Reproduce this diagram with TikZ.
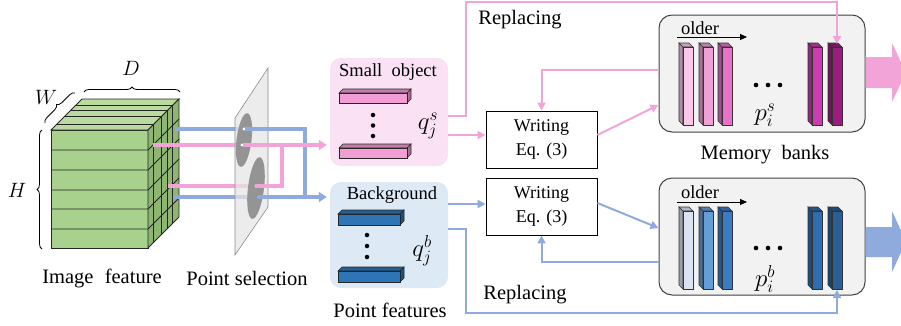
\documentclass[tikz,border=0pt]{standalone}
\usepackage{fontspec}
\setmainfont{Liberation Serif}
\usetikzlibrary{arrows.meta,decorations.pathreplacing,calc}
\definecolor{pline}{HTML}{F2A3D8}
\definecolor{bline}{HTML}{8FAADC}
\definecolor{pfill}{HTML}{FBE1F4}
\definecolor{bfill}{HTML}{DDEAF6}
\definecolor{memfill}{HTML}{F2F2F2}
\definecolor{cfront}{HTML}{A9D18E}
\definecolor{ctop}{HTML}{BADBA0}
\definecolor{cside}{HTML}{8EB572}
\definecolor{sb1}{HTML}{F9C8E7}
\definecolor{sb2}{HTML}{F1A0D6}
\definecolor{sb3}{HTML}{E872C8}
\definecolor{sb4}{HTML}{CC3DAF}
\definecolor{sb5}{HTML}{9C1B7E}
\definecolor{bb1}{HTML}{D9E3F3}
\definecolor{bb2}{HTML}{659DD6}
\definecolor{bb3}{HTML}{3A7CC3}
\definecolor{bb4}{HTML}{2E6DB0}
\definecolor{bb5}{HTML}{2A5F96}
\definecolor{fpink}{HTML}{F09ED3}
\definecolor{fblue}{HTML}{2E75B6}
\newcommand\membar[4]{%
  \filldraw[fill=#4!70!black,draw=black!80,line width=0.6pt] (#1,#2) -- ++(-4,-4) -- ({#1-4},{#3-4}) -- (#1,#3) -- cycle;
  \filldraw[fill=#4!80!black,draw=black!80,line width=0.6pt] (#1,#2) -- ++(-4,-4) -- ({#1+6},{#2-4}) -- ({#1+10},#2) -- cycle;
  \filldraw[fill=#4,draw=black!80,line width=0.6pt] (#1,#2) rectangle ({#1+10},#3);}
\newcommand\featbar[5]{%
  \filldraw[fill=#5!80!black,draw=black!85,line width=0.6pt] (#1,#2) -- ++(4,-4) -- ({#3+4},{#2-4}) -- (#3,#2) -- cycle;
  \filldraw[fill=#5!70!black,draw=black!85,line width=0.6pt] (#3,#2) -- ++(4,-4) -- ({#3+4},{#4-4}) -- (#3,#4) -- cycle;
  \filldraw[fill=#5,draw=black!85,line width=0.6pt] (#1,#2) rectangle (#3,#4);}
\tikzset{
  lab/.style={font=\fontsize{20.5}{24}\selectfont, inner sep=0pt},
  smalllab/.style={font=\fontsize{18.5}{22}\selectfont, inner sep=0pt},
  mathlab/.style={font=\fontsize{21}{24}\selectfont, inner sep=0pt},
  biglab/.style={font=\fontsize{26}{30}\selectfont, inner sep=0pt},
  tp/.style={line width=4.5pt, pline},
  tb/.style={line width=4.5pt, bline},
  bigtip/.style={-{Triangle[length=8pt,width=10pt]}},
  pl/.style={line width=2pt, pline, -{Triangle[length=8pt,width=8pt]}},
  bl/.style={line width=2pt, bline, -{Triangle[length=8pt,width=8pt]}},
  featbox/.style={rounded corners=11pt, inner sep=0pt},
  writebox/.style={draw=black, line width=0.9pt, fill=white, minimum width=111pt, minimum height=57pt, align=center, font=\fontsize{18}{24}\selectfont, inner sep=0pt},
  membox/.style={draw=black!75, line width=1pt, fill=memfill, rounded corners=13pt, minimum width=206pt, minimum height=117pt, inner sep=0pt},
  brc/.style={decorate, decoration={brace, amplitude=5pt}, line width=0.8pt},
  dot/.style={fill=black, circle, inner sep=0pt, minimum size=4.5pt}
}
\begin{document}
\begin{tikzpicture}[x=1pt,y=-1pt]
\useasboundingbox (0,0) rectangle (901,325);
% ---------- cube ----------
\begin{scope}[line width=0.9pt, draw=black!85]
\filldraw[fill=cfront] (51,130) rectangle (148,248);
\filldraw[fill=ctop] (51,130) -- (148,130) -- (179,99) -- (82,99) -- cycle;
\filldraw[fill=cside] (148,130) -- (179,99) -- (179,217) -- (148,248) -- cycle;
\foreach \y in {150,170,190,209,229} \draw (51,\y) -- (148,\y) -- ++(31,-31);
\foreach \f in {0.18,0.43,0.62,0.8}
  \draw ({51+31*\f},{130-31*\f}) -- ({148+31*\f},{130-31*\f}) -- ({148+31*\f},{248-31*\f});
\end{scope}
% braces
\draw[brc] (42,249) -- (42,130);
\draw[brc] (45,123) -- (75,93);
\draw[brc] (84,92) -- (180,92);
\node[mathlab] (hlab) at (17,190) {$H$};
\node[mathlab] (wlab) at (46,97) {$W$};
\node[mathlab] (dlab) at (131,68) {$D$};
% ---------- lines from cube ----------
\coordinate (bu0) at (175,129); \coordinate (bu1) at (245,129); \coordinate (bj) at (305,197);
\coordinate (bl0) at (173,197); \coordinate (bl1) at (258,197);
\coordinate (pu0) at (153,145); \coordinate (pu1) at (243,145);
\coordinate (pl0) at (168,186); \coordinate (pl1) at (255,186); \coordinate (pj) at (282,145);
\draw[tb] (bu0) -- (bu1);
\draw[tb] (bl0) -- (bl1);
\draw[tp] (pu0) -- (pu1);
\draw[tp] (pl0) -- (pl1);
% plane
\fill[black!10, opacity=0.75] (235,118) -- (268,68) -- (268,207) -- (235,255) -- cycle;
\draw[black!45, line width=0.6pt] (235,118) -- (268,68) -- (268,207) -- (235,255) -- cycle;
\fill[black!42, rotate around={-7:(244,140)}] (244,140) ellipse [x radius=7.5, y radius=27];
\fill[black!42, rotate around={-7:(256,188)}] (256,188) ellipse [x radius=8, y radius=31];
\fill[white] (244,129) circle (1.6); \fill[white] (242,145) circle (1.6);
\fill[white] (256,186) circle (1.6); \fill[white] (259,197) circle (1.6);
% ---------- point feature boxes ----------
\node[featbox, fill=pfill, minimum width=118pt, minimum height=108pt] (pinkbox) at (389,112) {};
\node[featbox, fill=bfill, minimum width=118pt, minimum height=106pt] (bluebox) at (389,235) {};
\draw[tb] (bu1) -| (bj);
\draw[tb, bigtip, shorten >=3pt] (bl1) -- (bl1 -| bluebox.west);
\draw[tp, bigtip, shorten >=3pt] (pu1) -- (pu1 -| pinkbox.west);
\draw[tp] (pl1) -| (pj);
\node[smalllab] (small) at (388,72) {Small\hspace{0.25em} object};
\node[smalllab] (backg) at (392,195) {Background};
\featbar{339}{93}{407}{103}{fpink}
\featbar{339}{148}{407}{158}{fpink}
\featbar{338}{214}{400}{225}{fblue}
\featbar{338}{271}{400}{282}{fblue}
\node[dot] (pd1) at (373,115) {}; \node[dot] (pd2) at (373,125.5) {}; \node[dot] (pd3) at (373,136) {};
\node[dot] (bd1) at (367,235) {}; \node[dot] (bd2) at (367,246) {}; \node[dot] (bd3) at (367,257) {};
\node[biglab] (qs) at (428,126) {$q_j^s$};
\node[biglab] (qb) at (422,251) {$q_j^b$};
% ---------- writing boxes ----------
\node[writebox] (write1) at (541.5,139.5) {Writing\\Eq. (3)};
\node[writebox] (write2) at (541.5,206.5) {Writing\\Eq. (3)};
% ---------- memory banks ----------
\node[membox] (mem1) at (762,73.5) {};
\node[membox] (mem2) at (762,236.5) {};
\membar{683}{47}{125}{sb1}
\membar{703}{47}{125}{sb2}
\membar{722}{47}{125}{sb3}
\membar{812}{47}{125}{sb4}
\membar{832}{47}{125}{sb5}
\membar{683}{211}{289}{bb1}
\membar{703}{211}{289}{bb2}
\membar{722}{211}{289}{bb3}
\membar{812}{211}{289}{bb4}
\membar{832}{211}{289}{bb5}
\coordinate (s5top) at (837,44);
\coordinate (b5bot) at (837,290);
\node[smalllab] (old1) at (700,28) {older};
\node[smalllab] (old2) at (700,192) {older};
\coordinate (o1a) at (677,37); \coordinate (o1b) at (747,37);
\coordinate (o2a) at (677,202); \coordinate (o2b) at (747,202);
\draw[line width=0.9pt, -{Triangle[length=7pt,width=6pt]}] (o1a) -- (o1b);
\draw[line width=0.9pt, -{Triangle[length=7pt,width=6pt]}] (o2a) -- (o2b);
\foreach \xx in {756,768,780} {\fill (\xx,85) circle (2.3); \fill (\xx,248) circle (2.3);}
\node[biglab] (ps) at (765,115) {$p_i^s$};
\node[biglab] (pb) at (765,279) {$p_i^b$};
\node[lab] (membanks) at (765,155) {Memory\hspace{0.25em} banks};
% ---------- connectors ----------
\coordinate (a1) at ([yshift=-4pt]pinkbox.east);
\coordinate (a2) at ([yshift=-23pt]pinkbox.east);
\coordinate (b1) at ([yshift=31pt]bluebox.east);
\coordinate (b2) at ([yshift=6pt]bluebox.east);
\draw[pl] (a1) -- ++(18,0) -- ++(0,-114) -| (s5top);
\draw[pl] (a2) -- (a2 -| write1.west);
\draw[pl] ([yshift=3.5pt]mem1.west) -| (write1.north);
\draw[pl] ([yshift=4.5pt]write1.east) -- ([yshift=-31.5pt]mem1.west);
\draw[bl] (b1) -- (b1 -| write2.west);
\draw[bl] ([yshift=3.5pt]write2.east) -- ([yshift=8.5pt]mem2.west);
\draw[bl] ([yshift=-25.5pt]mem2.west) -| (write2.south);
\draw[bl] (b2) -- ++(18,0) -- ++(0,84) -| (b5bot);
\node[lab] (rep1) at (520,20) {Replacing};
\node[lab] (rep2) at (525,295) {Replacing};
% ---------- big output arrows ----------
\begin{scope}
\clip (0,0) rectangle (901,325);
\fill[pline] (mem1.east |- 0,57) -- (892,57) -- (892,43) -- (906,72.5) -- (892,102) -- (892,88) -- (mem1.east |- 0,88) -- cycle;
\fill[bline] (mem2.east |- 0,227) -- (892,227) -- (892,211) -- (906,241.5) -- (892,272) -- (892,257) -- (mem2.east |- 0,257) -- cycle;
\end{scope}
% ---------- captions ----------
\node[lab] (imgfeat) at (102,278) {Image\hspace{0.3em} feature};
\node[lab] (ptsel) at (247,278) {Point selection};
\node[lab] (ptfeat) at (390,310) {Point features};
\end{tikzpicture}
\end{document}
